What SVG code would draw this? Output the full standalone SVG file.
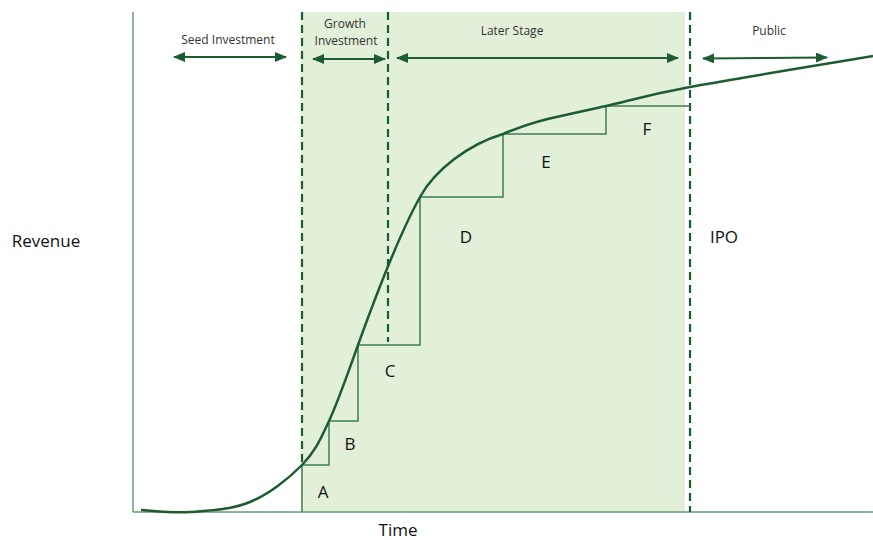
<svg xmlns="http://www.w3.org/2000/svg" width="873" height="540" viewBox="0 0 873 540">
<style>
.axis{stroke:#6b9b78;stroke-width:1.5;fill:none}
.dash{stroke:#1d5c31;stroke-width:2.2;stroke-dasharray:8,5;fill:none}
.step{stroke:#3f7c50;stroke-width:1.5;fill:none}
.curve{stroke:#1d5c31;stroke-width:2.5;fill:none}
.arr{stroke:#1d5c31;stroke-width:1.8;fill:none;marker-start:url(#ah);marker-end:url(#ah)}
.sm{font-family:"Open Sans","Noto Sans",sans-serif;font-size:12px;fill:#333;text-anchor:middle}
.lg{font-family:"Open Sans","Noto Sans",sans-serif;font-size:17px;fill:#111;text-anchor:middle}
</style>
<defs>
<marker id="ah" viewBox="0 0 12 10" refX="11" refY="5" markerWidth="12" markerHeight="10" markerUnits="userSpaceOnUse" orient="auto-start-reverse">
<path d="M0,0 L12,5 L0,10 Z" fill="#1d5c31"/>
</marker>
</defs>
<rect x="301" y="12" width="384" height="500" fill="#e2efd9"/>
<g id="axes">
<line class="axis" x1="133" y1="12" x2="133" y2="512"/>
<line class="axis" x1="133" y1="512" x2="873" y2="512"/>
</g>
<g id="dividers">
<line class="dash" x1="302" y1="12" x2="302" y2="462"/>
<line class="dash" x1="388" y1="12" x2="388" y2="342"/>
<line class="dash" x1="690" y1="12" x2="690" y2="512"/>
</g>
<g id="steps">
<path class="step" d="M302,512 V465 H329 V421 H358 V345 H420 V197 H503 V134 H606 V106 H690"/>
</g>
<g id="curve">
<path class="curve" d="M141,510 C149.2,510.3 171.8,513.3 190,512 C208.2,510.7 231.3,509.8 250,502 C268.7,494.2 288.8,478.5 302,465 C315.2,451.5 319.7,441 329,421 C338.3,401 348.2,372.2 358,345 C371,309 396,240 420,197 C435,170 468,144.5 503,134 C515,129 522.8,125.7 540,121 C557.2,116.3 581,111.7 606,106 C631,100.3 645.5,95.3 690,87 C734.5,78.7 842.5,61.2 873,56"/>
</g>
<g id="connectors">
<line class="arr" x1="174" y1="57" x2="286" y2="57"/>
<line class="arr" x1="313" y1="59" x2="385" y2="59"/>
<line class="arr" x1="397" y1="58" x2="678" y2="58"/>
<line class="arr" x1="703" y1="58.5" x2="827" y2="57.5"/>
</g>
<g id="stage-labels">
<text class="sm" x="228" y="44">Seed Investment</text>
<text class="sm" x="345" y="28">Growth</text>
<text class="sm" x="346" y="45">Investment</text>
<text class="sm" x="512" y="35">Later Stage</text>
<text class="sm" x="769" y="35">Public</text>
</g>
<g id="round-labels">
<text class="lg" x="323" y="498">A</text>
<text class="lg" x="350" y="450">B</text>
<text class="lg" x="390" y="377">C</text>
<text class="lg" x="466" y="243">D</text>
<text class="lg" x="546" y="168">E</text>
<text class="lg" x="647" y="135">F</text>
</g>
<g id="axis-labels">
<text class="lg" x="46" y="247">Revenue</text>
<text class="lg" x="398" y="536">Time</text>
<text class="lg" x="724" y="243">IPO</text>
</g>
</svg>
